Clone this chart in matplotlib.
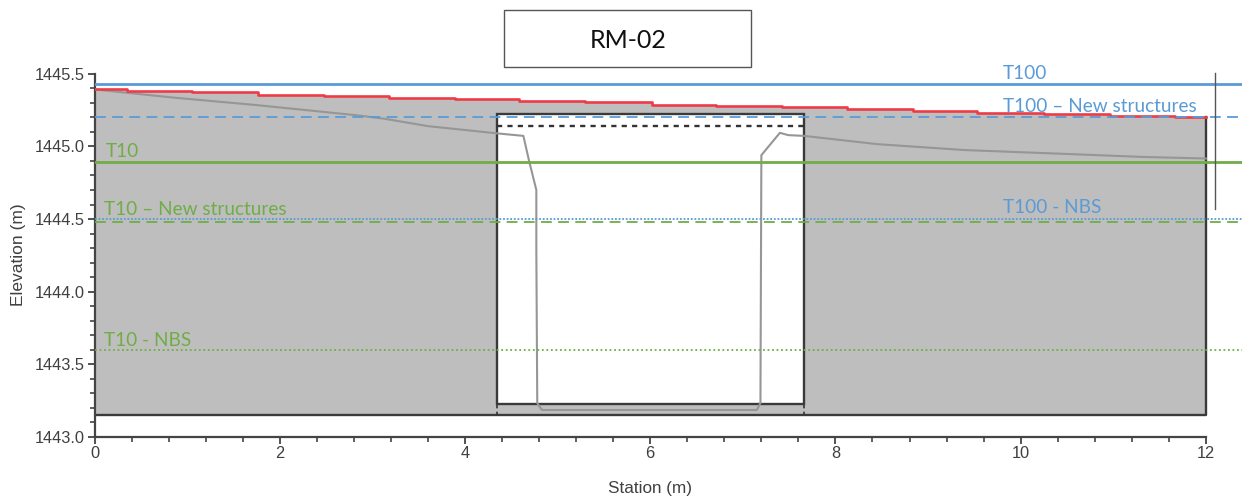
import matplotlib
matplotlib.use('Agg')
import matplotlib.pyplot as plt
from matplotlib.patches import Rectangle
from matplotlib.ticker import MultipleLocator

# water surface (red), stepped
red_station = [0, 0.35, 1.05, 1.76, 2.48, 3.18, 3.89, 4.58, 5.30, 6.02, 6.71, 7.42, 8.13, 8.84, 9.53, 10.25, 10.97, 11.67, 12]
red_elev = [1445.395, 1445.383, 1445.372, 1445.358, 1445.346, 1445.335, 1445.326, 1445.314, 1445.303,
            1445.289, 1445.281, 1445.269, 1445.257, 1445.245, 1445.234, 1445.222, 1445.213, 1445.204, 1445.204]

# bed / culvert profile (grey)
bed_station = [0, 0.83, 1.75, 2.83, 3.14, 3.6, 4.35, 4.63, 4.69, 4.77, 4.77, 4.78, 4.83, 7.15, 7.19, 7.20, 7.40, 7.49, 7.66,
               8.45, 9.4, 10.35, 11.31, 12]
bed_elev = [1445.393, 1445.338, 1445.285, 1445.215, 1445.19, 1445.14, 1445.09, 1445.073, 1444.905, 1444.70, 1444.286, 1443.232,
            1443.184, 1443.184, 1443.232, 1444.94, 1445.094, 1445.078, 1445.073,
            1445.016, 1444.975, 1444.952, 1444.928, 1444.917]

floor_elev = 1443.147
box_station = [4.35, 7.66]
box_elev = [1443.225, 1445.227]
box_dash_elev = 1445.14

t100 = 1445.43
t100_new = 1445.2
t100_nbs = 1444.5
t10 = 1444.89
t10_new = 1444.48
t10_nbs = 1443.6

blue = '#5B9BD5'
green = '#70AD47'
dark = '#404040'

plt.rcParams['font.family'] = ['Liberation Sans', 'DejaVu Sans']

fig = plt.figure(figsize=(12.53, 5.04), dpi=100)
ax = fig.add_axes([94.6 / 1253, (504 - 436.7) / 504, (1242 - 94.6) / 1253, (436.7 - 73.9) / 504])
ax.set_xlim(0, 12.39)
ax.set_ylim(1443.0, 1445.5)

# grey section below the water surface
ax.fill_between(red_station, floor_elev, red_elev, step='post', color='#BEBEBE', lw=0, zorder=1)
ax.plot([0, 12, 12], [floor_elev, floor_elev, red_elev[-1]], color='#3a3a3a', lw=1.7, zorder=3)

# opening
ax.add_patch(Rectangle((box_station[0], box_elev[0]), box_station[1] - box_station[0], box_elev[1] - box_elev[0],
                       facecolor='white', edgecolor='#3a3a3a', lw=1.7, zorder=2))
ax.plot(box_station, [box_dash_elev, box_dash_elev], color='#333333', lw=1.7, ls=(0, (2.2, 2.2)), zorder=3)
for s in box_station:
    ax.plot([s, s], [floor_elev, box_elev[0]], color='#333333', lw=1.2, ls=(0, (2, 2)), zorder=3)

ax.plot(bed_station, bed_elev, color='#969696', lw=1.5, zorder=4)
ax.step(red_station, red_elev, where='post', color='#EE3B46', lw=1.9, zorder=5)

# flood levels
ax.axhline(t100, color=blue, lw=2, zorder=6)
ax.axhline(t100_new, color=blue, lw=1.3, ls=(0, (6, 3.5)), zorder=6)
ax.axhline(t100_nbs, color=blue, lw=1.3, ls=(0, (1, 1)), zorder=6)
ax.axhline(t10, color=green, lw=2, zorder=6)
ax.axhline(t10_new, color=green, lw=1.3, ls=(0, (6, 3.5)), zorder=6)
ax.axhline(t10_nbs, color=green, lw=1.3, ls=(0, (1, 1.5)), zorder=6)

# thin marker on the right
ax.plot([12.1, 12.1], [1444.567, 1445.507], color='#555555', lw=1, clip_on=False, zorder=7)

labels = [
    (9.81, 1445.506, 'T100', blue),
    (9.81, 1445.272, 'T100 – New structures', blue),
    (9.81, 1444.577, 'T100 - NBS', blue),
    (0.12, 1444.968, 'T10', green),
    (0.10, 1444.563, 'T10 – New structures', green),
    (0.10, 1443.661, 'T10 - NBS', green),
]
for x, y, txt, col in labels:
    ax.text(x, y, txt, color=col, fontsize=13.7, family='Lato', va='center', ha='left', zorder=8)

# axes
for side in ['top', 'right']:
    ax.spines[side].set_visible(False)
ax.spines['bottom'].set_bounds(0, 12)
ax.spines['left'].set_color('#444444')
ax.spines['bottom'].set_color('#444444')
ax.spines['left'].set_linewidth(1.6)
ax.spines['bottom'].set_linewidth(1.6)
ax.spines['left'].set_zorder(3)

ax.set_xticks([0, 2, 4, 6, 8, 10, 12])
ax.set_xticks([v * 0.4 for v in range(31)], minor=True)
ax.yaxis.set_major_locator(MultipleLocator(0.5))
ax.yaxis.set_minor_locator(MultipleLocator(0.1))
ax.yaxis.set_major_formatter('{x:.1f}')
ax.tick_params(which='major', direction='out', color='#444444', width=1.3, length=5, labelcolor=dark, labelsize=11.8, pad=2)
ax.tick_params(which='minor', direction='out', color='#444444', width=1.2, length=3.5)

ax.set_xlabel('Station (m)', fontsize=12.3, color=dark)
ax.xaxis.set_label_coords((650 - 94.6) / 1147.4, -(489 - 436.7) / 362.8, transform=ax.transAxes)
ax.xaxis.label.set_va('center')
ax.set_ylabel('Elevation (m)', fontsize=12.5, color=dark)
ax.yaxis.set_label_coords((18 - 94.6) / 1147.4, (436.7 - 254.5) / 362.8, transform=ax.transAxes)
ax.yaxis.label.set_va('center')

# title box
fig.add_artist(Rectangle((504 / 1253, (504 - 67) / 504), 247 / 1253, 57 / 504, facecolor='white',
                         edgecolor='#555555', lw=1.0, transform=fig.transFigure))
fig.text(628 / 1253, (504 - 41) / 504, 'RM-02', fontsize=18, family='Lato', color='#111111', ha='center', va='center')

plt.savefig('out.png', dpi=100)
